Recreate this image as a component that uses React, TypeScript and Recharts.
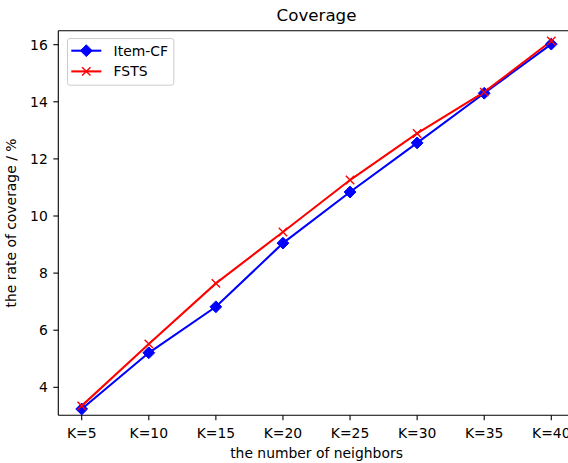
import React from 'react';
import { LineChart, Line, XAxis, YAxis, Legend, Label } from 'recharts';

const categories = ['K=5', 'K=10', 'K=15', 'K=20', 'K=25', 'K=30', 'K=35', 'K=40'];
const itemCF = [3.24, 5.21, 6.82, 9.05, 10.84, 12.56, 14.30, 16.02];
const fsts = [3.35, 5.52, 7.64, 9.44, 11.26, 12.89, 14.34, 16.13];
const yTicks = [4, 6, 8, 10, 12, 14, 16];
const seriesNames = ['Item-CF', 'FSTS'];

const data = categories.map((c, i) => ({ k: c, itemCF: itemCF[i], fsts: fsts[i] }));

const FONT = '"DejaVu Sans", sans-serif';
const BLUE = '#0000ff';
const RED = '#ff0000';

const Diamond = (props: any) => {
  const { cx, cy, index } = props;
  const r = 5.9;
  return (
    <path
      key={`d-${index}`}
      d={`M${cx},${cy - r}L${cx + r},${cy}L${cx},${cy + r}L${cx - r},${cy}Z`}
      fill={BLUE}
      stroke={BLUE}
      strokeWidth={1}
    />
  );
};

const Cross = (props: any) => {
  const { cx, cy, index } = props;
  const r = 4.2;
  return (
    <path
      key={`x-${index}`}
      d={`M${cx - r},${cy - r}L${cx + r},${cy + r}M${cx - r},${cy + r}L${cx + r},${cy - r}`}
      stroke={RED}
      strokeWidth={1.4}
      fill="none"
    />
  );
};

const LegendBox = () => (
  <svg width={108} height={48} style={{ display: 'block' }}>
    <rect x={0.5} y={0.5} width={106.3} height={46.7} rx={2.5} ry={2.5} fill="#ffffff" fillOpacity={0.8} stroke="#cccccc" strokeWidth={1} />
    <line x1={4.3} y1={12.7} x2={34.3} y2={12.7} stroke={BLUE} strokeWidth={2.08} />
    <path d={`M19.3,6.8L25.2,12.7L19.3,18.6L13.4,12.7Z`} fill={BLUE} stroke={BLUE} />
    <text x={46.6} y={17.7} fontFamily={FONT} fontSize={13.9} fill="#000">{seriesNames[0]}</text>
    <line x1={4.3} y1={33.4} x2={34.3} y2={33.4} stroke={RED} strokeWidth={2.08} />
    <path d={`M15.1,29.2L23.5,37.6M15.1,37.6L23.5,29.2`} stroke={RED} strokeWidth={1.4} />
    <text x={46.6} y={38.4} fontFamily={FONT} fontSize={13.9} fill="#000">{seriesNames[1]}</text>
  </svg>
);

export default function App() {
  return (
    <div style={{ position: 'absolute', left: 0, top: 0, width: 568, height: 463, overflow: 'hidden', background: '#fff' }}>
      <LineChart
        width={600}
        height={463}
        data={data}
        margin={{ top: 0, right: 25.3, bottom: 0, left: 0 }}
      >
        <XAxis
          xAxisId="top"
          orientation="top"
          dataKey="k"
          height={30.7}
          tick={false}
          tickLine={false}
          axisLine={{ stroke: '#000', strokeWidth: 1.1 }}
          padding={{ left: 23.4, right: 23.4 }}
        >
          <Label
            content={() => (
              <text x={316.5} y={20.5} textAnchor="middle" fontFamily={FONT} fontSize={16.7} fill="#000">Coverage</text>
            )}
          />
        </XAxis>
        <XAxis
          dataKey="k"
          height={47.7}
          tickSize={5}
          tickMargin={8}
          tick={{ fontFamily: FONT, fontSize: 13.9, fill: '#000' }}
          tickLine={{ stroke: '#000', strokeWidth: 1.1 }}
          axisLine={{ stroke: '#000', strokeWidth: 1.1 }}
          padding={{ left: 23.4, right: 23.4 }}
          interval={0}
        >
          <Label
            content={() => (
              <text x={316.5} y={457.5} textAnchor="middle" fontFamily={FONT} fontSize={13.9} fill="#000">the number of neighbors</text>
            )}
          />
        </XAxis>
        <YAxis
          width={58.3}
          domain={[3.02, 16.49]}
          ticks={yTicks}
          type="number"
          allowDataOverflow
          tickSize={5}
          tickMargin={5.5}
          tick={{ fontFamily: FONT, fontSize: 13.9, fill: '#000' }}
          tickLine={{ stroke: '#000', strokeWidth: 1.1 }}
          axisLine={{ stroke: '#000', strokeWidth: 1.1 }}
        >
          <Label
            content={() => (
              <text x={15.5} y={223} transform="rotate(-90 15.5 223)" textAnchor="middle" fontFamily={FONT} fontSize={13.9} fill="#000">the rate of coverage / %</text>
            )}
          />
        </YAxis>
        <Line
          type="linear"
          dataKey="itemCF"
          name={seriesNames[0]}
          stroke={BLUE}
          strokeWidth={2.08}
          dot={Diamond}
          activeDot={false}
          isAnimationActive={false}
        />
        <Line
          type="linear"
          dataKey="fsts"
          name={seriesNames[1]}
          stroke={RED}
          strokeWidth={2.08}
          dot={Cross}
          activeDot={false}
          isAnimationActive={false}
        />
        <Legend
          layout="vertical"
          align="center"
          verticalAlign="middle"
          wrapperStyle={{ left: 66.7, top: 38.3, width: 108, height: 48 }}
          content={() => <LegendBox />}
        />
      </LineChart>
    </div>
  );
}
